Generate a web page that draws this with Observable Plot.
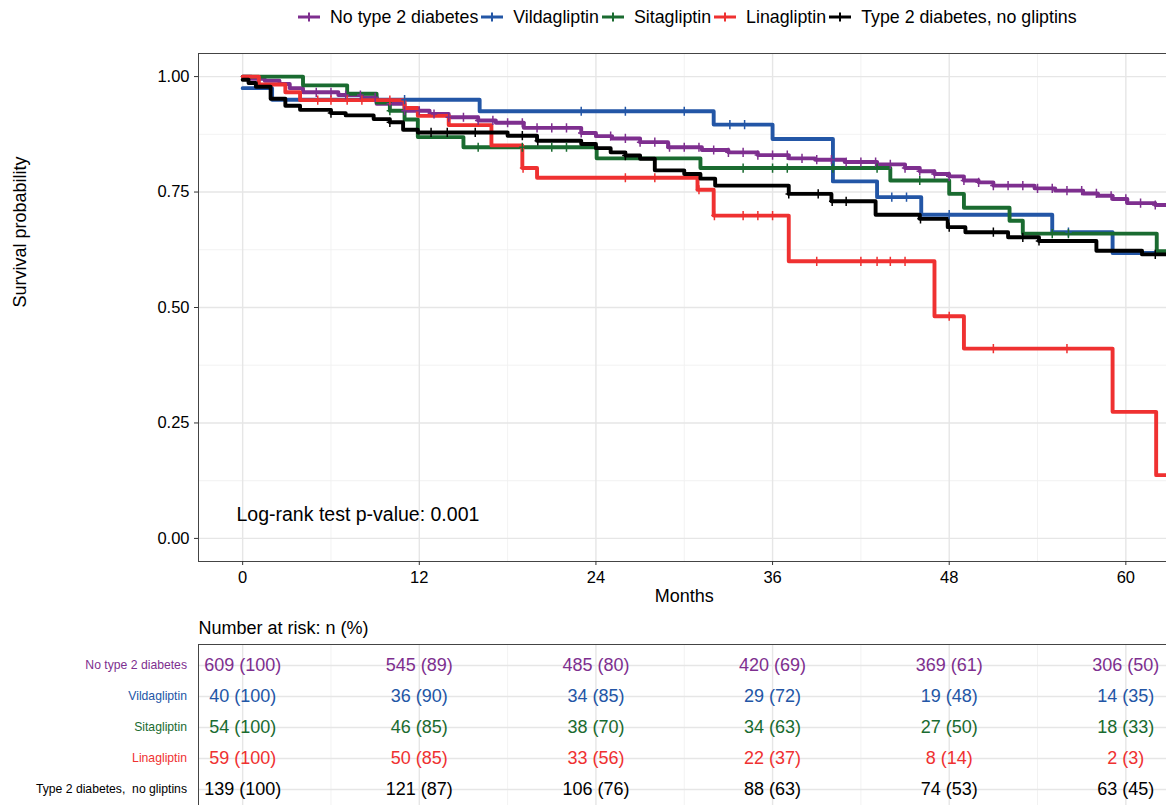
<!DOCTYPE html>
<html><head><meta charset="utf-8">
<script src="https://cdn.jsdelivr.net/npm/d3@7"></script>
<script src="https://cdn.jsdelivr.net/npm/@observablehq/plot@0.6"></script>
<style>
html,body{margin:0;padding:0;background:#fff;overflow:hidden;}
#root{position:relative;width:1166px;height:805px;overflow:hidden;font-family:"Liberation Sans",Arial,Helvetica,sans-serif;}
#legend{position:absolute;left:298px;top:5px;height:24px;display:flex;align-items:center;white-space:nowrap;font-size:17.8px;color:#000;}
.item{display:flex;align-items:center;}
.item svg{display:block;}
.item span{margin-left:10px;margin-right:3px;}
#main{position:absolute;left:0;top:0;width:1170px;}
#risk{position:absolute;left:0;top:610px;width:1170px;}
#main svg,#risk svg{max-width:none !important;}
</style></head>
<body><div id="root"><div id="legend"></div><div id="main"></div><div id="risk"></div></div>
<script>
// ---------- data ----------
const groups = ["No type 2 diabetes", "Vildagliptin", "Sitagliptin", "Linagliptin", "Type 2 diabetes, no gliptins"];
const riskLabels = ["No type 2 diabetes", "Vildagliptin", "Sitagliptin", "Linagliptin", "Type 2 diabetes,  no gliptins"];
const colors = ["#7E2F8F", "#2356A6", "#1A6B30", "#EF3131", "#000000"];

const xTicks = [0, 12, 24, 36, 48, 60];
const xMinor = [6, 18, 30, 42, 54];
const yTicks = [0, 0.25, 0.5, 0.75, 1];
const yMinor = [0.125, 0.375, 0.625, 0.875];

// No type 2 diabetes
const timeNoT2D = [0, 0.6, 1.5, 2.5, 3.2, 4.1, 6.5, 8.1, 9.1, 11.0, 12.7, 14.0, 16.0, 17.2, 19.1, 23.0, 24.0, 25.1, 27.0, 28.9, 31.2, 33.0, 35.0, 37.1, 38.9, 40.9, 43.1, 45.0, 46.0, 47.0, 48.0, 49.0, 50.0, 51.0, 53.8, 55.2, 57.1, 58.1, 59.1, 60.1, 62.0, 63];
const survNoT2D = [1.0, 0.995, 0.991, 0.984, 0.975, 0.966, 0.960, 0.955, 0.941, 0.926, 0.919, 0.912, 0.905, 0.900, 0.889, 0.878, 0.871, 0.866, 0.858, 0.847, 0.841, 0.836, 0.830, 0.823, 0.820, 0.815, 0.810, 0.802, 0.795, 0.789, 0.784, 0.775, 0.771, 0.764, 0.758, 0.753, 0.747, 0.742, 0.735, 0.726, 0.722, 0.722];
const censNoT2D = [5, 6, 7, 8, 9, 10, 11, 12, 13, 14, 15, 16, 17, 18, 19, 20, 21, 22, 23, 25, 26, 27, 28, 29, 30, 31, 32, 33, 34, 35, 36, 37, 38, 39, 40, 41, 42, 43, 44, 45, 46, 47, 48, 49, 50, 51, 52, 53, 54, 55, 56, 57, 58, 59, 60, 61, 62];

// Vildagliptin
const timeVilda = [0, 2.0, 16.1, 32.0, 36.0, 40.1, 43.1, 46.1, 55.0, 59.1, 63];
const survVilda = [0.975, 0.95, 0.925, 0.896, 0.865, 0.773, 0.739, 0.701, 0.663, 0.618, 0.618];
const censVilda = [11, 23, 26, 30, 33.1, 34.1, 44.1, 45.1, 48, 56.1];

// Sitagliptin
const timeSita = [0, 4.1, 7.1, 9.1, 10.0, 11.0, 11.9, 15.0, 24.05, 31.1, 44.0, 48.0, 49.0, 52.1, 53.0, 62.1, 63];
const survSita = [1.0, 0.981, 0.963, 0.944, 0.926, 0.907, 0.869, 0.847, 0.823, 0.802, 0.775, 0.746, 0.716, 0.688, 0.660, 0.622, 0.622];
const censSita = [10, 16, 19, 21, 22, 34, 36, 37, 40.1, 43.1, 46, 55, 56.1];

// Linagliptin
const timeLina = [0, 1.1, 2.9, 3.9, 11.0, 11.9, 14.0, 16.9, 19.0, 20.0, 30.9, 32.0, 37.1, 47.0, 49.0, 59.1, 62.06, 63];
const survLina = [1.0, 0.983, 0.966, 0.949, 0.932, 0.915, 0.895, 0.851, 0.802, 0.781, 0.755, 0.699, 0.60, 0.481, 0.411, 0.274, 0.137, 0.137];
const censLina = [5.1, 6, 7.1, 8.1, 10, 19.05, 26, 28, 31, 32.05, 34, 35, 36, 39, 42, 43.1, 44, 45, 48, 51, 56];

// Type 2 diabetes, no gliptins
const timeT2D = [0, 0.4, 0.9, 1.9, 2.9, 3.9, 6.0, 7.0, 8.9, 10.0, 10.9, 11.9, 18.0, 20.0, 23.0, 24.0, 25.0, 26.0, 27.0, 28.0, 30.0, 31.1, 32.1, 37.1, 40.0, 43.0, 46.0, 47.9, 49.1, 52.0, 54.1, 58.0, 61.1, 63];
const survT2D = [0.993, 0.986, 0.978, 0.952, 0.937, 0.928, 0.921, 0.916, 0.908, 0.901, 0.885, 0.879, 0.872, 0.861, 0.854, 0.845, 0.836, 0.829, 0.822, 0.797, 0.789, 0.779, 0.764, 0.746, 0.730, 0.701, 0.692, 0.674, 0.663, 0.652, 0.644, 0.623, 0.615, 0.615];
const censT2D = [6, 10, 12.8, 13.9, 15.8, 19, 20.05, 26, 37.1, 39.1, 40.05, 41, 46.05, 48, 51, 53, 54.1, 62];

// Number at risk
const riskTimes = [0, 12, 24, 36, 48, 60];
const riskNoT2D = [609, 545, 485, 420, 369, 306];
const pctNoT2D = [100, 89, 80, 69, 61, 50];
const riskVilda = [40, 36, 34, 29, 19, 14];
const pctVilda = [100, 90, 85, 72, 48, 35];
const riskSita = [54, 46, 38, 34, 27, 18];
const pctSita = [100, 85, 70, 63, 50, 33];
const riskLina = [59, 50, 33, 22, 8, 2];
const pctLina = [100, 85, 56, 37, 14, 3];
const riskT2D = [139, 121, 106, 88, 74, 63];
const pctT2D = [100, 87, 76, 63, 53, 45];

const pValueText = "Log-rank test p-value: 0.001";

// ---------- build tables ----------
const series = [
  [timeNoT2D, survNoT2D, censNoT2D, riskNoT2D, pctNoT2D],
  [timeVilda, survVilda, censVilda, riskVilda, pctVilda],
  [timeSita, survSita, censSita, riskSita, pctSita],
  [timeLina, survLina, censLina, riskLina, pctLina],
  [timeT2D, survT2D, censT2D, riskT2D, pctT2D]
];
const lineRows = [], censRows = [], riskRows = [];
series.forEach(([T, S, C, R, P], gi) => {
  const g = groups[gi];
  T.forEach((t, i) => lineRows.push({group: g, t, s: S[i]}));
  C.forEach(t => {
    let k = 0;
    for (let i = 0; i < T.length; i++) if (T[i] <= t) k = i;
    censRows.push({group: g, t, s: S[k]});
  });
  riskTimes.forEach((t, i) => riskRows.push({group: g, t, label: `${R[i]} (${P[i]})`}));
});

const plusSymbol = {
  draw(ctx, size) {
    const r = Math.sqrt(size / Math.PI);
    ctx.moveTo(0, -r); ctx.lineTo(0, r);
    ctx.moveTo(-r * 0.7, 0); ctx.lineTo(r * 0.7, 0);
  }
};

const font = '"Liberation Sans", Arial, Helvetica, sans-serif';
const colorScale = {domain: groups, range: colors};

// ---------- legend ----------
const legend = document.getElementById("legend");
groups.forEach((g, i) => {
  const item = document.createElement("div");
  item.className = "item";
  item.innerHTML = `<svg width="22" height="20"><line x1="0" x2="22" y1="10" y2="10" stroke="${colors[i]}" stroke-width="3"/><line x1="11" x2="11" y1="5.5" y2="14.5" stroke="${colors[i]}" stroke-width="2"/></svg><span>${g}</span>`;
  legend.appendChild(item);
});

// ---------- main plot ----------
const main = Plot.plot({
  width: 1170, height: 610,
  marginLeft: 198, marginRight: 0.5, marginTop: 53, marginBottom: 49,
  style: {fontFamily: font, fontSize: "16.5px", color: "#000", background: "transparent", maxWidth: "none"},
  x: {domain: [-3, 63]},
  y: {domain: [-0.05, 1.05]},
  color: colorScale,
  marks: [
    Plot.ruleX(xMinor, {stroke: "#f0f0f0", strokeWidth: 0.9}),
    Plot.ruleY(yMinor, {stroke: "#f0f0f0", strokeWidth: 0.9}),
    Plot.ruleX(xTicks, {stroke: "#e6e6e6", strokeWidth: 1.4}),
    Plot.ruleY(yTicks, {stroke: "#e6e6e6", strokeWidth: 1.4}),
    Plot.line(lineRows, {x: "t", y: "s", z: "group", stroke: "group", curve: "step-after", strokeWidth: 3.9, clip: true}),
    Plot.dot(censRows, {x: "t", y: "s", stroke: "group", fill: "none", symbol: plusSymbol, r: 4.6, strokeWidth: 1.5, clip: true}),
    Plot.frame({stroke: "#444", strokeWidth: 1}),
    Plot.axisX({ticks: xTicks, tickSize: 4, tickPadding: 6, fontSize: 16.5, stroke: "#333", fill: "#000", label: null}),
    Plot.axisY({ticks: yTicks, tickSize: 4, tickPadding: 5, fontSize: 16.5, stroke: "#333", fill: "#000", tickFormat: d3.format(".2f"), label: null}),
    Plot.text([pValueText], {text: d => d, frameAnchor: "bottom-left", lineAnchor: "middle", dx: 38, dy: -47, textAnchor: "start", fontSize: 19.5, fill: "#000"}),
    Plot.text(["Months"], {text: d => d, frameAnchor: "bottom", lineAnchor: "middle", dy: 35, fontSize: 18, fill: "#000"}),
    Plot.text(["Survival probability"], {text: d => d, frameAnchor: "left", lineAnchor: "middle", dx: -178, rotate: -90, fontSize: 18, fill: "#000"})
  ]
});
main.style.maxWidth = "none";
document.getElementById("main").appendChild(main);

// ---------- risk table ----------
const risk = Plot.plot({
  width: 1170, height: 200,
  marginLeft: 198, marginRight: 0.5, marginTop: 34, marginBottom: 1,
  style: {fontFamily: font, fontSize: "18px", background: "transparent", maxWidth: "none"},
  x: {domain: [-3, 63], axis: null},
  y: {type: "point", domain: groups, padding: 0.6, axis: null},
  color: colorScale,
  marks: [
    Plot.ruleX(xMinor, {stroke: "#f0f0f0", strokeWidth: 0.9}),
    Plot.ruleX(xTicks, {stroke: "#e6e6e6", strokeWidth: 1.4}),
    Plot.ruleY(groups, {y: d => d, stroke: "#e6e6e6", strokeWidth: 1.4}),
    Plot.frame({stroke: "#444", strokeWidth: 1}),
    Plot.text(riskRows, {x: "t", y: "group", text: "label", fill: "group", fontSize: 18}),
    Plot.text(groups, {y: d => d, text: (d, i) => riskLabels[i], frameAnchor: "left", lineAnchor: "middle", textAnchor: "end", dx: -11.5, fill: d => d, fontSize: 12.2}),
    Plot.text(["Number at risk: n (%)"], {text: d => d, frameAnchor: "top-left", lineAnchor: "middle", textAnchor: "start", dy: -16, fontSize: 18, fill: "#000"})
  ]
});
risk.setAttribute("xml:space", "preserve");
risk.style.whiteSpace = "pre";
risk.style.maxWidth = "none";
document.getElementById("risk").appendChild(risk);
</script>
</body></html>
